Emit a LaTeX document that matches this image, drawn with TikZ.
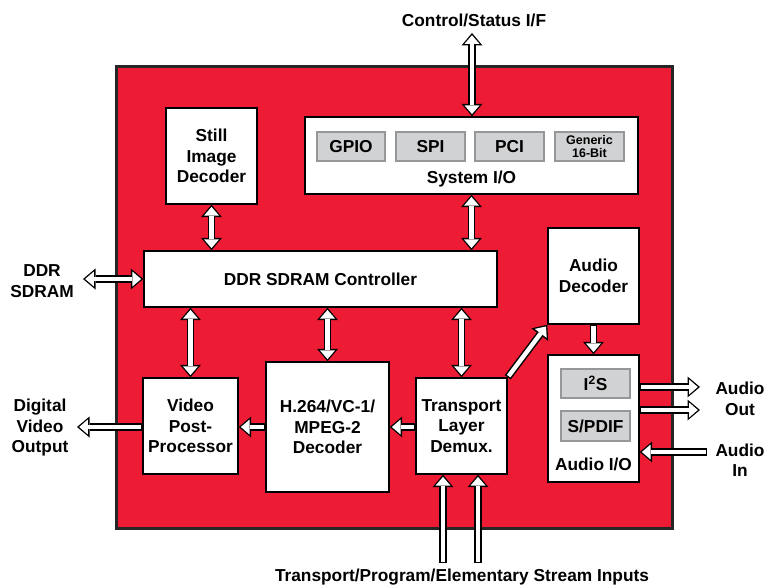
\documentclass[tikz,border=0pt]{standalone}
\usepackage{fontspec}
\setmainfont{Liberation Sans}
\usetikzlibrary{arrows.meta}

\definecolor{chipred}{RGB}{237,28,52}
\definecolor{subgray}{RGB}{209,210,212}
\definecolor{subline}{RGB}{150,151,153}

\tikzset{
  BlockStyle/.style = {draw=black, line width=1.4pt, fill=white, align=center,
                       inner sep=0pt, font=\bfseries\fontsize{17.3}{20.5}\selectfont},
  SubStyle/.style   = {draw=subline, line width=1.3pt, fill=subgray, align=center,
                       inner sep=0pt, minimum width=69pt, minimum height=29pt,
                       font=\bfseries\fontsize{17.3}{20.5}\selectfont},
  TextStyle/.style  = {align=center, inner sep=0pt, font=\bfseries\fontsize{17.3}{20.5}\selectfont},
  Pipe/.style  = {line width=7.4pt, draw=black, -{Triangle[length=12.5pt, width=21pt, line width=0pt]},
                  postaction={draw=white, line width=4.4pt,
                  -{Triangle[length=8.7pt, width=15pt, line width=0pt]},
                  shorten >=2.2pt, shorten <=1.5pt}},
  Pipe2/.style = {line width=7.4pt, draw=black,
                  {Triangle[length=12.5pt, width=21pt, line width=0pt]}-{Triangle[length=12.5pt, width=21pt, line width=0pt]},
                  postaction={draw=white, line width=4.4pt,
                  {Triangle[length=8.7pt, width=15pt, line width=0pt]}-{Triangle[length=8.7pt, width=15pt, line width=0pt]},
                  shorten >=2.2pt, shorten <=2.2pt}}
}

\begin{document}
\begin{tikzpicture}[x=1pt,y=-1pt]

\useasboundingbox (0,0) rectangle (766,586);

\draw[line width=3pt, draw=black!85, fill=chipred] (116,67) rectangle (672,528);


\node[BlockStyle, minimum width=91pt, minimum height=96pt] (still) at (211.5,156) {Still\\Image\\Decoder};
\node[BlockStyle, minimum width=333pt, minimum height=77pt] (sysio) at (471.5,155.5) {};
\node[SubStyle, minimum width=68pt] (gpio) at (351,146.5) {GPIO};
\node[SubStyle] (spi) at (430.5,146.5) {SPI};
\node[SubStyle] (pci) at (509.5,146.5) {PCI};
\node[SubStyle, font=\bfseries\fontsize{12.5}{13}\selectfont] (generic) at (589.5,146.5) {Generic\\16-Bit};
\node[TextStyle] (sysiotext) at (471.5,179) {System I/O};
\node[BlockStyle, minimum width=353pt, minimum height=56pt] (ddr) at (320.5,279) {DDR SDRAM Controller};
\node[BlockStyle, minimum width=91pt, minimum height=96pt] (adec) at (593.5,276) {Audio\\Decoder};
\node[BlockStyle, minimum width=91pt, minimum height=127pt] (aio) at (593.5,418.5) {};
\node[SubStyle] (i2s) at (595.5,383.5) {I\textsuperscript{2}S};
\node[SubStyle, minimum height=30pt] (spdif) at (595.5,426) {S/PDIF};
\node[TextStyle] (aiotext) at (593.5,464) {Audio I/O};
\node[BlockStyle, minimum width=91pt, minimum height=96pt] (trans) at (461.5,426) {Transport\\Layer\\Demux.};
\node[BlockStyle, minimum width=95pt, minimum height=96pt] (vpp) at (190.5,426) {Video\\Post-\\Processor};
\node[BlockStyle, minimum width=123pt, minimum height=130pt] (h264) at (327.5,427) {H.264/VC-1/\\MPEG-2\\Decoder};


\node[TextStyle] (ctltext) at (474,20) {Control/Status I/F};
\node[TextStyle] (ddrtext) at (42,281) {DDR\\SDRAM};
\node[TextStyle] (dvotext) at (40,428) {Digital\\Video\\Output};
\node[TextStyle] (aouttext) at (740,399) {Audio\\Out};
\node[TextStyle] (aintext) at (740,460) {Audio\\In};
\node[TextStyle] (intext) at (462,577) {Transport/Program/Elementary Stream Inputs};

\coordinate (ctl) at (472,33);
\coordinate (ddrext) at (83,279);
\coordinate (dvo) at (77,427);
\coordinate (aout1) at (700,387);
\coordinate (aout2) at (700,410);
\coordinate (ain) at (707,452);
\coordinate (in1) at (443,563);
\coordinate (in2) at (478,563);


\draw[Pipe2] (ctl) -- (ctl |- sysio.north);
\draw[Pipe2] (still.south) -- (still.south |- ddr.north);
\draw[Pipe2] (sysio.south) -- (sysio.south |- ddr.north);
\draw[Pipe2] (ddrext) -- (ddr.west);
\draw[Pipe2] (vpp.north |- ddr.south) -- (vpp.north);
\draw[Pipe2] (h264.north |- ddr.south) -- (h264.north);
\draw[Pipe2] (trans.north |- ddr.south) -- (trans.north);

\draw[Pipe] (trans.north east) -- (adec.south west);
\draw[Pipe] (adec.south) -- (aio.north);
\draw[Pipe] (trans.west |- h264.east) -- (h264.east);
\draw[Pipe] (h264.west) -- (h264.west -| vpp.east);
\draw[Pipe] (vpp.west |- dvo) -- (dvo);
\draw[Pipe] (aio.east |- aout1) -- (aout1);
\draw[Pipe] (aio.east |- aout2) -- (aout2);
\draw[Pipe] (ain) -- (aio.east |- ain);
\draw[Pipe] (in1) -- (in1 |- trans.south);
\draw[Pipe] (in2) -- (in2 |- trans.south);

\end{tikzpicture}
\end{document}
